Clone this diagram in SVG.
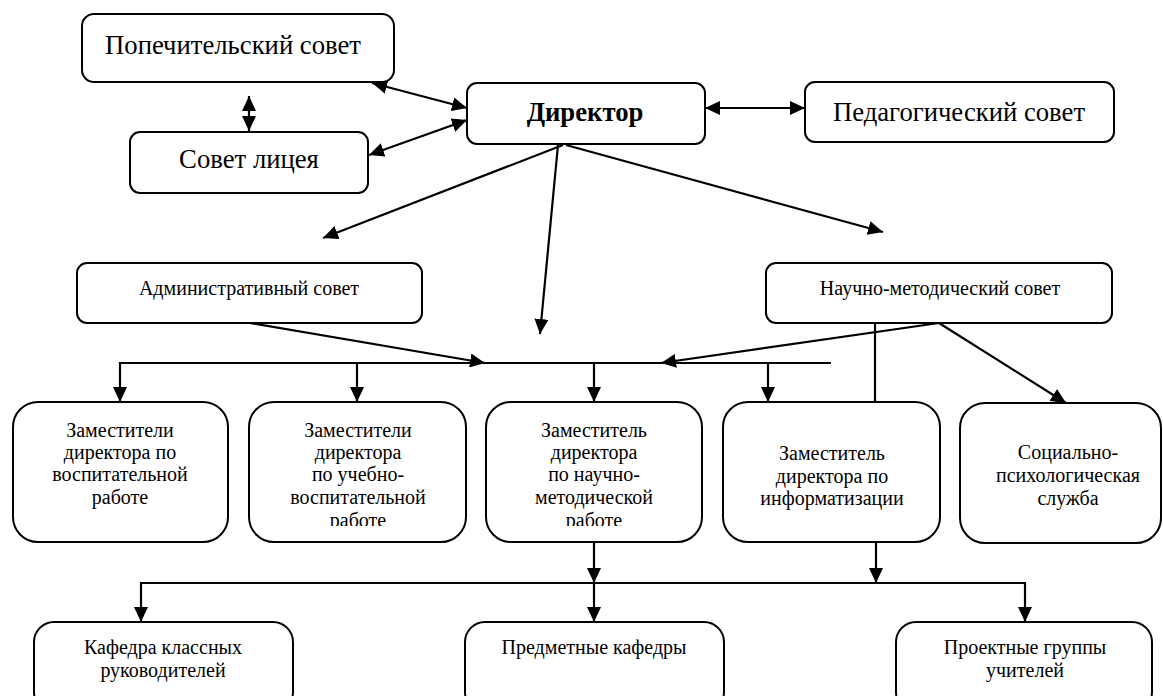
<svg xmlns="http://www.w3.org/2000/svg" width="1163" height="696" viewBox="0 0 1163 696" font-family="Liberation Serif, DejaVu Serif, serif">
<style>
.box{fill:#fff;stroke:#000;stroke-width:2}
.t{fill:#000;text-anchor:middle}
.big{font-size:26.7px}
.bold{font-weight:bold}
.sm{font-size:20px}
.c{stroke:#000;stroke-width:2.2;fill:none}
.a{marker-end:url(#ah)}
.aa{marker-end:url(#ah);marker-start:url(#ah)}
</style>
<defs>
<marker id="ah" viewBox="0 0 15 14" refX="15" refY="7" markerWidth="15" markerHeight="14" markerUnits="userSpaceOnUse" orient="auto-start-reverse">
<path d="M0,0 L15,7 L0,14 z" fill="#000"/>
</marker>
<clipPath id="clip5"><rect x="0" y="390" width="1163" height="136"/></clipPath>
</defs>
<rect width="1163" height="696" fill="#fff"/>
<g id="connectors">
<line class="c aa" x1="372" y1="83" x2="467" y2="108"/>
<line class="c aa" x1="369" y1="155" x2="467" y2="120"/>
<line class="c aa" x1="249" y1="96" x2="249" y2="131"/>
<line class="c aa" x1="705" y1="108" x2="805" y2="108"/>
<line class="c a" x1="563" y1="145" x2="323" y2="238"/>
<line class="c a" x1="558" y1="145" x2="540" y2="334"/>
<line class="c a" x1="566" y1="145" x2="883" y2="232"/>
<line class="c a" x1="250" y1="323" x2="485" y2="363"/>
<line class="c a" x1="939" y1="323" x2="661" y2="363"/>
<line class="c" x1="119" y1="363" x2="831" y2="363"/>
<line class="c a" x1="120" y1="362" x2="120" y2="402"/>
<line class="c a" x1="357" y1="362" x2="357" y2="402"/>
<line class="c a" x1="594" y1="362" x2="594" y2="402"/>
<line class="c a" x1="768" y1="362" x2="768" y2="402"/>
<line class="c" x1="875" y1="323" x2="875" y2="402"/>
<line class="c a" x1="939" y1="323" x2="1066" y2="403"/>
<line class="c a" x1="594" y1="542" x2="594" y2="583"/>
<line class="c a" x1="876" y1="542" x2="876" y2="583"/>
<line class="c" x1="140" y1="583" x2="1026" y2="583"/>
<line class="c a" x1="141" y1="582" x2="141" y2="622"/>
<line class="c a" x1="594" y1="582" x2="594" y2="622"/>
<line class="c a" x1="1025" y1="582" x2="1025" y2="622"/>
</g>
<g id="popech">
<rect class="box" x="82" y="14" width="312" height="68" rx="12"/>
<text class="t big" x="233" y="54">Попечительский совет</text>
</g>
<g id="sovet-liceya">
<rect class="box" x="130" y="132" width="238" height="61" rx="10"/>
<text class="t big" x="249" y="168">Совет лицея</text>
</g>
<g id="direktor">
<rect class="box" x="467" y="83" width="238" height="61" rx="10"/>
<text class="t big bold" x="585" y="121">Директор</text>
</g>
<g id="pedsovet">
<rect class="box" x="805" y="82" width="309" height="60" rx="10"/>
<text class="t big" x="959" y="121">Педагогический совет</text>
</g>
<g id="admsovet">
<rect class="box" x="77" y="263" width="345" height="60" rx="10"/>
<text class="t sm" x="249" y="295">Административный совет</text>
</g>
<g id="nms">
<rect class="box" x="766" y="263" width="346" height="60" rx="10"/>
<text class="t sm" x="940" y="295">Научно-методический совет</text>
</g>
<g id="zam-vosp">
<rect class="box" x="13" y="402" width="215" height="140" rx="25"/>
<text class="t sm" x="120" y="437">Заместители</text>
<text class="t sm" x="120" y="459">директора по</text>
<text class="t sm" x="120" y="481">воспитательной</text>
<text class="t sm" x="120" y="504">работе</text>
</g>
<g id="zam-uvr">
<rect class="box" x="249" y="402" width="217" height="140" rx="25"/>
<g clip-path="url(#clip5)">
<text class="t sm" x="358" y="437">Заместители</text>
<text class="t sm" x="358" y="459">директора</text>
<text class="t sm" x="358" y="481">по учебно-</text>
<text class="t sm" x="358" y="504">воспитательной</text>
<text class="t sm" x="358" y="527">работе</text>
</g>
</g>
<g id="zam-nmr">
<rect class="box" x="486" y="402" width="216" height="140" rx="25"/>
<g clip-path="url(#clip5)">
<text class="t sm" x="594" y="437">Заместитель</text>
<text class="t sm" x="594" y="459">директора</text>
<text class="t sm" x="594" y="481">по научно-</text>
<text class="t sm" x="594" y="504">методической</text>
<text class="t sm" x="594" y="527">работе</text>
</g>
</g>
<g id="zam-inf">
<rect class="box" x="723" y="402" width="217" height="140" rx="25"/>
<text class="t sm" x="832" y="460">Заместитель</text>
<text class="t sm" x="832" y="483">директора по</text>
<text class="t sm" x="832" y="505">информатизации</text>
</g>
<g id="soc-psy">
<rect class="box" x="960" y="403" width="201" height="140" rx="25"/>
<text class="t sm" x="1068" y="459">Социально-</text>
<text class="t sm" x="1068" y="482">психологическая</text>
<text class="t sm" x="1068" y="505">служба</text>
</g>
<g id="kafedra-kl">
<rect class="box" x="34" y="622" width="259" height="90" rx="20"/>
<text class="t sm" x="163" y="654">Кафедра классных</text>
<text class="t sm" x="163" y="677">руководителей</text>
</g>
<g id="kafedry">
<rect class="box" x="465" y="622" width="259" height="90" rx="20"/>
<text class="t sm" x="594" y="654">Предметные кафедры</text>
</g>
<g id="proekt">
<rect class="box" x="896" y="622" width="256" height="90" rx="20"/>
<text class="t sm" x="1025" y="654">Проектные группы</text>
<text class="t sm" x="1025" y="677">учителей</text>
</g>
</svg>
